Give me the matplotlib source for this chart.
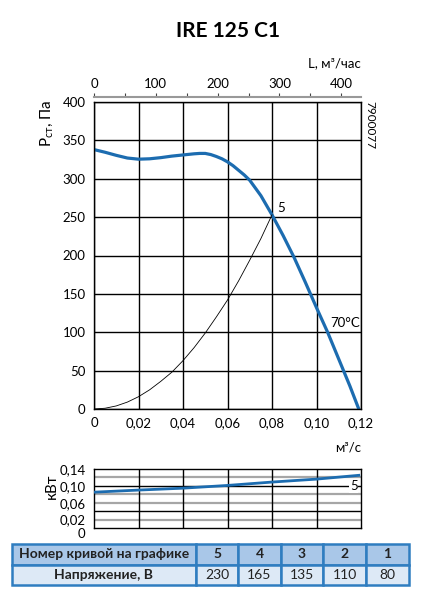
import numpy as np
import matplotlib
matplotlib.use('Agg')
import matplotlib.pyplot as plt

plt.rcParams['font.family'] = ['Lato', 'DejaVu Sans']

# Pressure curve (m3/s, Pa)
q_p = [0, 0.005, 0.01, 0.015, 0.02, 0.025, 0.03, 0.035, 0.04, 0.045, 0.0475,
       0.05, 0.0525, 0.055, 0.0575, 0.06, 0.0625, 0.065, 0.0675, 0.07, 0.075,
       0.08, 0.085, 0.09, 0.095, 0.10, 0.105, 0.11, 0.115, 0.119]
p_st = [338, 334.5, 330.5, 327, 325.5, 326, 327.5, 329.5, 331, 332.5, 333,
        333, 331.5, 329, 326, 322, 317, 311, 305, 298, 278,
        253, 226, 197, 165, 132, 100, 65, 30, 0]

# System curve
q_s = [0, 0.005, 0.01, 0.015, 0.02, 0.025, 0.03, 0.035, 0.04, 0.045, 0.05,
       0.055, 0.06, 0.065, 0.07, 0.075, 0.08]
p_s = [0, 1, 4, 9, 16, 25, 36, 48, 63, 80, 99, 120, 142, 167, 194, 222, 253]

# Power curve (kW)
q_n = [0, 0.02, 0.04, 0.06, 0.08, 0.10, 0.119]
n_kw = [0.085, 0.090, 0.0945, 0.101, 0.109, 0.116, 0.125]

x_ticks = [0, 0.02, 0.04, 0.06, 0.08, 0.10, 0.12]
x_labels = ['0', '0,02', '0,04', '0,06', '0,08', '0,10', '0,12']
y_ticks = [0, 50, 100, 150, 200, 250, 300, 350, 400]
top_ticks = [0, 100, 200, 300, 400]
top_minor = [50, 150, 250, 350]
n_ticks = [0, 0.02, 0.06, 0.10, 0.14]
n_labels = ['0', '0,02', '0,06', '0,10', '0,14']
n_black = [0.04, 0.10]
n_gray = [0.02, 0.06, 0.08, 0.12]

table_head = ['Номер кривой на графике', '5', '4', '3', '2', '1']
table_row = ['Напряжение, В', '230', '165', '135', '110', '80']

blue = '#1c6cb0'
W, H = 421, 594
fig = plt.figure(figsize=(W / 100, H / 100), dpi=100)


def box(l, t, r, b):
    return [l / W, 1 - b / H, (r - l) / W, (b - t) / H]


fig.text(228 / W, 1 - 31 / H, 'IRE 125 C1', ha='center', va='center',
         fontsize=15, fontweight='bold')

# Main chart
ax = fig.add_axes(box(94, 102, 361, 409))
ax.plot(q_p, p_st, color=blue, lw=2.3, solid_capstyle='round', solid_joinstyle='round')
ax.plot(q_s, p_s, color='black', lw=0.6)
ax.set_xlim(0, 0.12)
ax.set_ylim(0, 400)
ax.set_xticks(x_ticks)
ax.set_xticklabels(x_labels)
ax.set_yticks(y_ticks)
ax.grid(True, color='black', lw=1.0)
ax.tick_params(length=0, labelsize=9.5, pad=6)
for s in ax.spines.values():
    s.set_linewidth(1.0)
ax.text(0.0825, 262, '5', fontsize=9.5, ha='left', va='center')
ax.text(0.1128, 112, '70°C', fontsize=9.5, ha='center', va='center')

top = ax.secondary_xaxis(1.016, functions=(lambda x: x * 3600, lambda x: x / 3600))
top.set_xticks(top_ticks)
top.set_xticks(top_minor, minor=True)
top.tick_params(which='both', length=3, width=0.8, labelsize=9.5, pad=2, color='#444444')
top.spines['top'].set_color('#999999')
top.spines['top'].set_linewidth(1.5)

fig.text(361 / W, 1 - 63 / H, 'L, м³/час', ha='right', va='center', fontsize=9.5)
fig.text(361 / W, 1 - 448 / H, 'м³/с', ha='right', va='center', fontsize=9.5)
fig.text(47 / W, 1 - 123 / H, r'Р$_{\mathregular{ст}}$, Па', rotation=90,
         ha='center', va='center', fontsize=11)
fig.text(370 / W, 1 - 125 / H, '7900077', rotation=-90, ha='center',
         va='center', fontsize=8.5)

# Power chart
ax2 = fig.add_axes(box(94, 469, 361, 528))
for v in n_gray:
    ax2.axhline(v, color='#a6a6a6', lw=1.6, zorder=1)
for v in n_black:
    ax2.axhline(v, color='black', lw=1.0, zorder=1)
for v in x_ticks[1:-1]:
    ax2.axvline(v, color='black', lw=1.0, zorder=1)
ax2.plot(q_n, n_kw, color=blue, lw=2.0, zorder=3)
ax2.text(0.1185, 0.10, '5', fontsize=9.5, ha='right', va='center', zorder=4,
         bbox=dict(facecolor='white', edgecolor='none', pad=0.5))
ax2.set_xlim(0, 0.12)
ax2.set_ylim(0, 0.14)
ax2.set_xticks([])
ax2.set_yticks(n_ticks)
ax2.set_yticklabels(n_labels)
ax2.tick_params(length=0, labelsize=9.5, pad=6)
ax2.get_yticklabels()[0].set_verticalalignment('top')
for s in ax2.spines.values():
    s.set_linewidth(1.0)
fig.text(52 / W, 1 - 486 / H, 'кВт', rotation=90, ha='center', va='center', fontsize=11)

# Table
axt = fig.add_axes(box(12, 544, 409, 585))
axt.axis('off')
tbl = axt.table(cellText=[table_head, table_row], bbox=[0, 0, 1, 1],
                colWidths=[184, 42, 43, 42, 43, 43], cellLoc='center')
tbl.auto_set_font_size(False)
for (r, c), cell in tbl.get_celld().items():
    cell.set_edgecolor('#2f7dc0')
    cell.set_linewidth(1.8)
    cell.set_facecolor('#a9c7e8' if r == 0 else '#dde9f6')
    txt = cell.get_text()
    txt.set_fontsize(10)
    txt.set_color('#222222')
    if r == 0 or c == 0:
        txt.set_fontweight('bold')

fig.savefig('out.png', dpi=100)
